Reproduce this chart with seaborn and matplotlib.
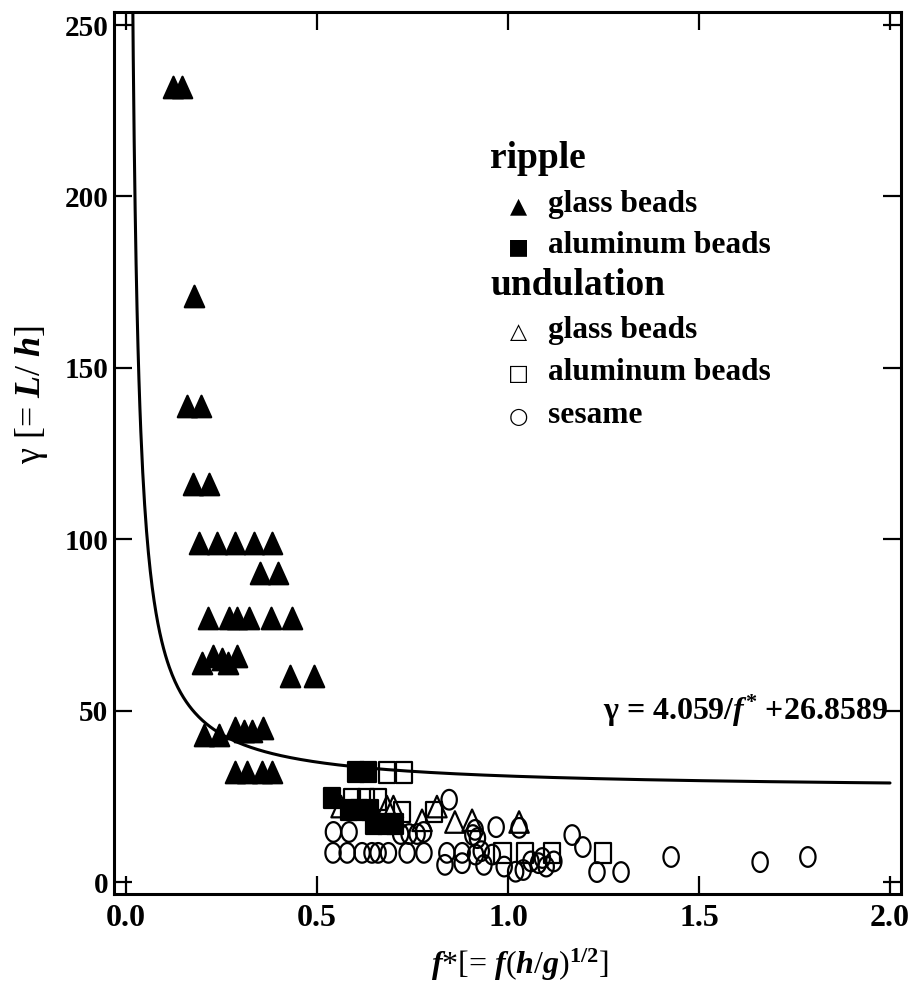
import numpy as np
import pandas as pd
import matplotlib
matplotlib.use("Agg")
import matplotlib.pyplot as plt
from matplotlib.path import Path
import seaborn as sns

# ---- data: dimensionless frequency f* and wavelength ratio gamma = L/h ----
ripple_glass_f = [0.123, 0.147, 0.178, 0.160, 0.196, 0.175, 0.217,
                  0.191, 0.238, 0.285, 0.335, 0.382,
                  0.351, 0.398,
                  0.215, 0.270, 0.291, 0.322, 0.380, 0.435,
                  0.199, 0.228, 0.251, 0.267, 0.291,
                  0.429, 0.492,
                  0.204, 0.243, 0.285, 0.309, 0.330, 0.359,
                  0.285, 0.317, 0.356, 0.382]
ripple_glass_g = [232, 232, 171, 139, 139, 116, 116,
                  99, 99, 99, 99, 99,
                  90, 90,
                  77, 77, 77, 77, 77, 77,
                  64, 66, 65, 64, 66,
                  60, 60,
                  43, 43, 45, 44, 44, 45,
                  32, 32, 32, 32]

ripple_al_f = [0.602, 0.634, 0.539, 0.585, 0.610, 0.640, 0.650, 0.680, 0.705]
ripple_al_g = [32, 32, 24.5, 21, 21, 21, 17, 17, 17]

undul_glass_f = [0.563, 0.683, 0.700, 0.775, 0.814, 0.861, 0.906, 1.029]
undul_glass_g = [22, 22, 22, 18, 22, 17.5, 18, 17.5]

undul_al_f = [0.683, 0.728, 0.592, 0.628, 0.660, 0.722, 0.806,
              0.986, 1.045, 1.115, 1.249]
undul_al_g = [32, 32, 24, 24, 24, 20.4, 20.4,
              8.5, 8.5, 8.5, 8.5]

sesame_f = [0.543, 0.584, 0.719, 0.741, 0.762, 0.779,
            0.542, 0.579, 0.618, 0.644, 0.660, 0.687, 0.736, 0.780,
            0.835, 0.880, 0.937, 0.959, 0.990, 1.020, 1.040, 1.100, 1.120,
            1.233, 1.296,
            0.846, 0.908, 0.914, 0.920, 0.969, 1.029, 1.168, 1.196,
            1.427, 1.660, 1.785,
            0.840, 0.880, 0.915, 0.930, 1.060, 1.080, 1.090]
sesame_g = [14.6, 14.6, 14.0, 14.0, 14.0, 14.6,
            8.5, 8.5, 8.5, 8.5, 8.5, 8.5, 8.5, 8.5,
            5.0, 5.5, 5.0, 8.0, 4.5, 3.0, 3.5, 4.5, 6.0,
            2.9, 2.9,
            24.0, 13.7, 15.2, 12.8, 16.0, 15.8, 13.7, 10.2,
            7.3, 5.8, 7.3,
            8.5, 8.5, 8.0, 9.0, 6.0, 5.5, 7.0]

fit_a, fit_b = 4.059, 26.8589

# ---- style ----
sns.set_theme(style="white")
plt.rcParams["font.family"] = ["Liberation Serif", "DejaVu Sans"]
plt.rcParams["font.weight"] = "bold"
plt.rcParams["text.color"] = "black"
plt.rcParams["axes.labelcolor"] = "black"
plt.rcParams["xtick.color"] = "black"
plt.rcParams["ytick.color"] = "black"
plt.rcParams["mathtext.fontset"] = "custom"
plt.rcParams["mathtext.rm"] = "Liberation Serif:bold"
plt.rcParams["mathtext.it"] = "Liberation Serif:bold:italic"
plt.rcParams["mathtext.bf"] = "Liberation Serif:bold"

# slightly tall marker outlines
tri = Path([(0, 1), (-0.9, -1), (0.9, -1), (0, 1)],
           [Path.MOVETO, Path.LINETO, Path.LINETO, Path.CLOSEPOLY])
sq = Path([(-0.8, -1), (0.8, -1), (0.8, 1), (-0.8, 1), (-0.8, -1)],
          [Path.MOVETO, Path.LINETO, Path.LINETO, Path.LINETO, Path.CLOSEPOLY])
t = np.linspace(0, 2 * np.pi, 60)
ell = Path(np.column_stack([0.78 * np.cos(t), np.sin(t)]), closed=True)

fig = plt.figure(figsize=(9.11, 9.93), dpi=100)
ax = fig.add_axes([114 / 911, 1 - 894 / 993, 787 / 911, 882 / 993])

# fitted curve
fc = np.linspace(0.0165, 2.0, 800)
sns.lineplot(x=fc, y=fit_a / fc + fit_b, ax=ax, color="black", lw=2.2,
             zorder=2, sort=False)

groups = [
    (sesame_f, sesame_g, ell, "none", 200),
    (undul_al_f, undul_al_g, sq, "none", 220),
    (undul_glass_f, undul_glass_g, tri, "none", 240),
    (ripple_al_f, ripple_al_g, sq, "black", 220),
    (ripple_glass_f, ripple_glass_g, tri, "black", 240),
]
for fx, gy, mk, face, s in groups:
    df = pd.DataFrame({"f": fx, "gamma": gy})
    sns.scatterplot(data=df, x="f", y="gamma", ax=ax, marker=mk, s=s,
                    facecolor=face, edgecolor="black", linewidth=1.6,
                    zorder=3, legend=False)

ax.set_xlim(-0.0314, 2.0288)
ax.set_ylim(-3.5, 253.8)
ax.set_xticks([0.0, 0.5, 1.0, 1.5, 2.0])
ax.set_xticklabels(["0.0", "0.5", "1.0", "1.5", "2.0"])
ax.set_yticks([0, 50, 100, 150, 200, 250])
ax.tick_params(direction="in", length=13, width=1.6, top=True, right=True,
               bottom=True, left=True, labelsize=21, colors="black")
ax.tick_params(axis="y", pad=4)
ax.tick_params(axis="x", pad=7, labelsize=23)
for lab in ax.get_xticklabels() + ax.get_yticklabels():
    lab.set_fontweight("bold")
for sp in ax.spines.values():
    sp.set_linewidth(2.2)
    sp.set_color("black")

ax.set_xlabel(r"$f$*[= $f$($h$/$g$)$^{1/2}$]", fontsize=23)
ax.xaxis.set_label_coords(0.516, -0.06)
ax.set_ylabel(r"γ [= $L$/ $h$]", fontsize=26, fontweight="normal")
ax.yaxis.set_label_coords(-0.081, 0.566)

ax.text(0.9835, (50 + 3.5) / 257.3,
        r"γ = 4.059/$f^{*}$ +26.8589", transform=ax.transAxes,
        ha="right", va="center", fontsize=23)

# legend block
def axfrac(px, py):
    return (px - 114) / 787, (894 - py) / 882

legend_rows = [
    ("head", "ripple", None, 168),
    ("item", "glass beads", "\u25B2", 212),
    ("item", "aluminum beads", "\u25A0", 253),
    ("head", "undulation", None, 295),
    ("item", "glass beads", "\u25B3", 338),
    ("item", "aluminum beads", "\u25A1", 380),
    ("item", "sesame", "\u25CB", 423),
]
for kind, label, sym, py in legend_rows:
    if kind == "head":
        x0, y0 = axfrac(490, py)
        ax.text(x0, y0, label, transform=ax.transAxes, fontsize=27,
                va="baseline", ha="left")
    else:
        xs, ys = axfrac(518, py)
        ax.text(xs, ys, sym, transform=ax.transAxes, fontsize=16,
                va="baseline", ha="center", family="DejaVu Sans")
        x0, y0 = axfrac(548, py)
        ax.text(x0, y0, label, transform=ax.transAxes, fontsize=22.6,
                va="baseline", ha="left")

fig.savefig("out.png", dpi=100, facecolor="white")
